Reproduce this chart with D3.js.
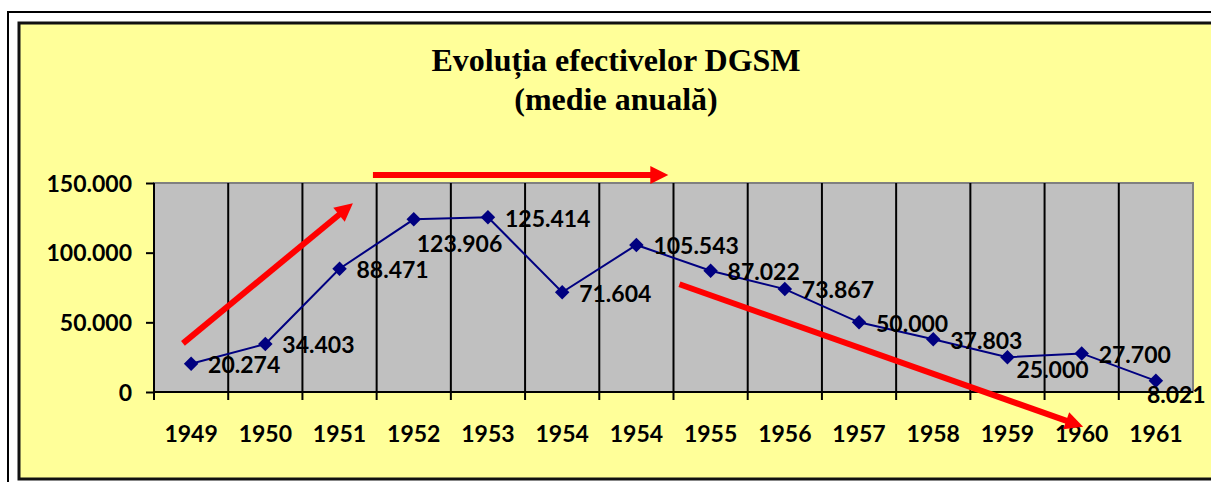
<!DOCTYPE html>
<html>
<head>
<meta charset="utf-8">
<script src="https://cdn.jsdelivr.net/npm/d3@7/dist/d3.min.js"></script>
<style>
  html, body { margin: 0; padding: 0; background: #ffffff; }
  svg { display: block; }
</style>
</head>
<body>
<svg id="chart" width="1211" height="482"></svg>
<script>
// ---- data ----
const titleLines = ["Evoluția efectivelor DGSM", "(medie anuală)"];
const years = ["1949","1950","1951","1952","1953","1954","1954","1955","1956","1957","1958","1959","1960","1961"];
const values = [20274, 34403, 88471, 123906, 125414, 71604, 105543, 87022, 73867, 50000, 37803, 25000, 27700, 8021];
const yTicks = [0, 50000, 100000, 150000];
// data-label nudges (pixels) relative to default "right of point"
const labelNudges = [[0,0],[0,0],[0,0],[-14,23],[0,0],[0,0],[0,0],[0,0],[0,0],[0,0],[0,0],[-8,12],[0,0],[-26,13]];
// annotation arrows in data space: [category position (0..14), value]
const arrows = [
  [[0.39, 34900], [2.68, 135400]],
  [[2.95, 155700], [6.93, 155700]],
  [[7.08, 77300], [12.52, -24900]]
];

// ---- layout ----
const svg = d3.select("#chart");
const plot = {left: 154, top: 183, right: 1193, bottom: 392};
const labelFont = "Lato, 'Open Sans', sans-serif";

const ro = d3.formatLocale({decimal: ",", thousands: ".", grouping: [3], currency: ["", ""]});
const fmt = ro.format(",");

// frames
svg.append("rect").attr("x", 8).attr("y", 12).attr("width", 1230).attr("height", 490)
  .attr("fill", "#ffffff").attr("stroke", "#000").attr("stroke-width", 2);
svg.append("rect").attr("x", 19).attr("y", 23).attr("width", 1220).attr("height", 456)
  .attr("fill", "#FFFF99").attr("stroke", "#111").attr("stroke-width", 3);

// title
svg.append("text")
  .attr("x", 616).attr("y", 71)
  .attr("text-anchor", "middle")
  .style("font-family", "'Liberation Serif', 'Times New Roman', serif")
  .style("font-weight", "bold").style("font-size", "32px")
  .selectAll("tspan").data(titleLines).join("tspan")
  .attr("x", 616).attr("dy", (d, i) => i === 0 ? 0 : 39)
  .text(d => d);

// scales
const x = d3.scaleBand().domain(d3.range(years.length)).range([plot.left, plot.right]).paddingInner(0).paddingOuter(0);
const xu = d3.scaleLinear().domain([0, years.length]).range([plot.left, plot.right]);
const y = d3.scaleLinear().domain([0, 150000]).range([plot.bottom, plot.top]);
const cx = i => x(i) + x.bandwidth() / 2;

// plot area
svg.append("rect")
  .attr("x", plot.left).attr("y", plot.top)
  .attr("width", plot.right - plot.left).attr("height", plot.bottom - plot.top)
  .attr("fill", "#C0C0C0").attr("stroke", "#808080").attr("stroke-width", 2);

// vertical gridlines at category boundaries
svg.append("g").selectAll("line").data(d3.range(1, years.length)).join("line")
  .attr("x1", d => x(d)).attr("x2", d => x(d))
  .attr("y1", plot.top).attr("y2", plot.bottom)
  .attr("stroke", "#000").attr("stroke-width", 2);

// y axis
const yAxis = svg.append("g").attr("transform", `translate(${plot.left},0)`)
  .call(d3.axisLeft(y).tickValues(yTicks).tickFormat(fmt).tickSize(8).tickPadding(14));
yAxis.select(".domain").attr("stroke", "#000").attr("stroke-width", 2).attr("d", `M0,${plot.top}V${plot.bottom}`);
yAxis.selectAll(".tick line").attr("stroke", "#000").attr("stroke-width", 2);
yAxis.selectAll(".tick text")
  .style("font-family", labelFont).style("font-weight", "bold").style("font-size", "23px")
  .attr("fill", "#000").attr("dy", "0.36em");

// x axis: ticks at boundaries, labels at centers
const xAxisG = svg.append("g");
xAxisG.append("line")
  .attr("x1", plot.left).attr("x2", plot.right).attr("y1", plot.bottom).attr("y2", plot.bottom)
  .attr("stroke", "#000").attr("stroke-width", 2);
xAxisG.selectAll("line.tk").data(d3.range(0, years.length)).join("line").attr("class", "tk")
  .attr("x1", d => x(d)).attr("x2", d => x(d))
  .attr("y1", plot.bottom).attr("y2", plot.bottom + 8)
  .attr("stroke", "#000").attr("stroke-width", 2);
xAxisG.selectAll("text").data(years).join("text")
  .attr("x", (d, i) => cx(i)).attr("y", 442)
  .attr("text-anchor", "middle")
  .style("font-family", labelFont).style("font-weight", "bold").style("font-size", "23px")
  .attr("fill", "#000")
  .text(d => d);

// annotation arrows
const arrowG = svg.append("g");
arrows.forEach(([s, e]) => {
  const x1 = xu(s[0]), y1 = y(s[1]), x2 = xu(e[0]), y2 = y(e[1]);
  const len = Math.hypot(x2 - x1, y2 - y1);
  const ux = (x2 - x1) / len, uy = (y2 - y1) / len;
  const headL = 18, headW = 9;
  const bx = x2 - ux * headL, by = y2 - uy * headL;
  arrowG.append("line")
    .attr("x1", x1).attr("y1", y1).attr("x2", bx + ux * 2).attr("y2", by + uy * 2)
    .attr("stroke", "#FF0000").attr("stroke-width", 6);
  arrowG.append("path")
    .attr("d", `M${x2},${y2}L${bx - uy * headW},${by + ux * headW}L${bx + uy * headW},${by - ux * headW}Z`)
    .attr("fill", "#FF0000");
});

// series line
svg.append("path").datum(values)
  .attr("d", d3.line().x((d, i) => cx(i)).y(d => y(d)))
  .attr("fill", "none").attr("stroke", "#000080").attr("stroke-width", 2);

// markers
svg.append("g").selectAll("path").data(values).join("path")
  .attr("transform", (d, i) => `translate(${cx(i)},${y(d)}) rotate(45)`)
  .attr("d", d3.symbol(d3.symbolSquare, 105))
  .attr("fill", "#000080");

// data labels
svg.append("g").selectAll("text").data(values).join("text")
  .attr("x", (d, i) => cx(i) + 17 + labelNudges[i][0])
  .attr("y", (d, i) => y(d) + 1 + labelNudges[i][1])
  .attr("dy", "0.36em")
  .style("font-family", labelFont).style("font-weight", "bold").style("font-size", "23px")
  .attr("fill", "#000")
  .text(d => fmt(d));
</script>
</body>
</html>
